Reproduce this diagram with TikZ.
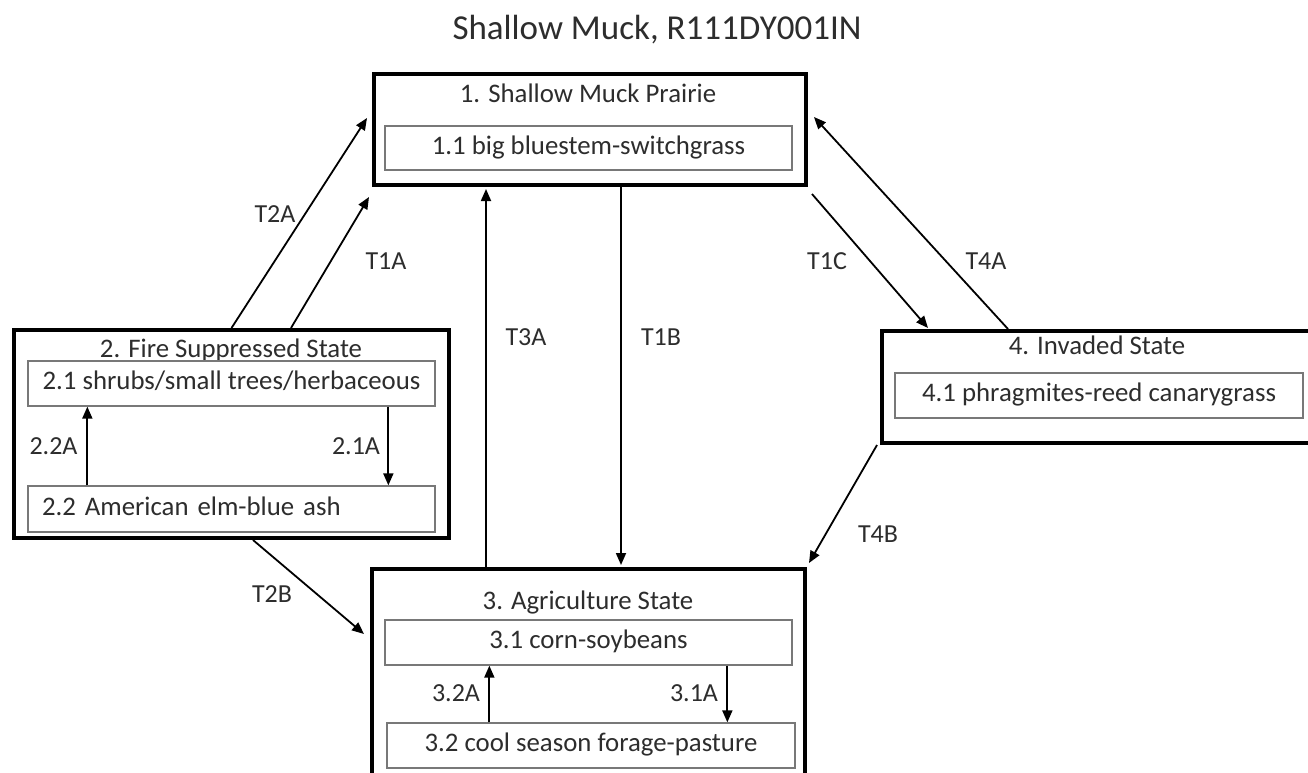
\documentclass[tikz,border=0pt]{standalone}
\usepackage{fontspec}
\setmainfont{Carlito}
\usetikzlibrary{arrows.meta,calc}
\definecolor{textc}{RGB}{45,45,45}
\definecolor{innerc}{RGB}{120,120,120}
\begin{document}
\begin{tikzpicture}[x=1pt,y=-1pt,
  outerbox/.style={draw=black,line width=4pt,rectangle,inner sep=0pt},
  innerbox/.style={draw=innerc,line width=1.3pt,rectangle,inner xsep=0pt,inner ysep=0pt,
     minimum width=407pt,minimum height=45pt,text height=17pt,text depth=5pt,
     text=textc,font=\fontsize{26.8}{32}\selectfont},
  stitle/.style={anchor=base,text=textc,inner sep=0pt,font=\fontsize{26.8}{32}\selectfont},
  lab/.style={anchor=base,text=textc,inner sep=0pt,font=\fontsize{26}{31}\selectfont},
  arr/.style={draw=black,line width=1.8pt,-{Triangle[length=12pt,width=10pt]}}
]
\useasboundingbox (0,0) rectangle (1308,772);
\clip (0,0) rectangle (1308,772);
\fill[white] (0,0) rectangle (1308,772);

% title
\node[anchor=base,text=textc,inner sep=0pt,font=\fontsize{35}{42}\selectfont] (title) at (657,39) {Shallow Muck, R111DY001IN};

% outer state boxes
\node[outerbox,minimum width=432pt,minimum height=111pt] (s1) at (590,129.5) {};
\node[outerbox,minimum width=435pt,minimum height=208pt] (s2) at (231.5,434) {};
\node[outerbox,minimum width=433pt,minimum height=221pt] (s3) at (588.5,679.5) {};
\node[outerbox,minimum width=436pt,minimum height=112pt] (s4) at (1100,387) {};

% state titles
\node[stitle] (t1) at (588,102) {1. Shallow Muck Prairie};
\node[stitle] (t2) at (231,357) {2. Fire Suppressed State};
\node[stitle] (t3) at (588,609) {3. Agriculture State};
\node[stitle] (t4) at (1097,354) {4. Invaded State};

% community boxes
\node[innerbox,minimum height=44pt] (s11) at (588.5,148) {1.1 big bluestem-switchgrass};
\node[innerbox] (s21) at (231.5,383.5) {2.1 shrubs/small trees/herbaceous};
\node[innerbox,minimum height=46pt,text width=379pt,inner xsep=14pt,align=left] (s22) at (231.5,509) {2.2 American elm-blue ash};
\node[innerbox] (s31) at (588.5,642.5) {3.1 corn-soybeans};
\node[innerbox,minimum width=408pt] (s32) at (591,745.5) {3.2 cool season forage-pasture};
\node[innerbox,minimum width=408pt] (s41) at (1099,395.5) {4.1 phragmites-reed canarygrass};

% transitions between states
\draw[arr] (s2.north) -- ([xshift=-5pt,yshift=11.5pt]s1.west);
\draw[arr] ([xshift=59.5pt]s2.north) -- ([xshift=-3pt,yshift=-10pt]s1.south west);
\draw[arr,shorten >=2pt] ([xshift=116pt]s3.north west) -- ([xshift=116pt]s3.north west |- s1.south);
\draw[arr,shorten >=2pt] ([xshift=249pt]s1.south west) -- ([xshift=249pt]s1.south west |- s3.north);
\draw[arr] ([xshift=4pt,yshift=-7pt]s1.south east) -- ([xshift=48pt,yshift=1pt]s4.north west);
\draw[arr] ([xshift=128pt]s4.north west) -- ([xshift=6pt,yshift=12.5pt]s1.east);
\draw[arr] ([xshift=-3pt]s4.south west) -- ([xshift=2pt,yshift=4pt]s3.north east);
\draw[arr] ([xshift=21.5pt]s2.south) -- ([xshift=-6pt,yshift=-67pt]s3.north west);

% transitions within states
\draw[arr] ([xshift=60pt]s22.north west) -- ([xshift=60pt]s22.north west |- s21.south);
\draw[arr] ([xshift=361pt]s21.south west) -- ([xshift=361pt]s21.south west |- s22.north);
\draw[arr] ([xshift=103pt]s32.north west) -- ([xshift=103pt]s32.north west |- s31.south);
\draw[arr] ([xshift=343pt]s31.south west) -- ([xshift=343pt]s31.south west |- s32.north);

% labels
\node[lab] (lT2A) at (275,222) {T2A};
\node[lab] (lT1A) at (386,269) {T1A};
\node[lab] (lT3A) at (526,345) {T3A};
\node[lab] (lT1B) at (661,345) {T1B};
\node[lab] (lT1C) at (827,269) {T1C};
\node[lab] (lT4A) at (986,269) {T4A};
\node[lab] (lT4B) at (878,542) {T4B};
\node[lab] (lT2B) at (272,602) {T2B};
\node[lab] (l22A) at (53.5,454) {2.2A};
\node[lab] (l21A) at (356,454) {2.1A};
\node[lab] (l32A) at (456,701) {3.2A};
\node[lab] (l31A) at (694,701) {3.1A};
\end{tikzpicture}
\end{document}
